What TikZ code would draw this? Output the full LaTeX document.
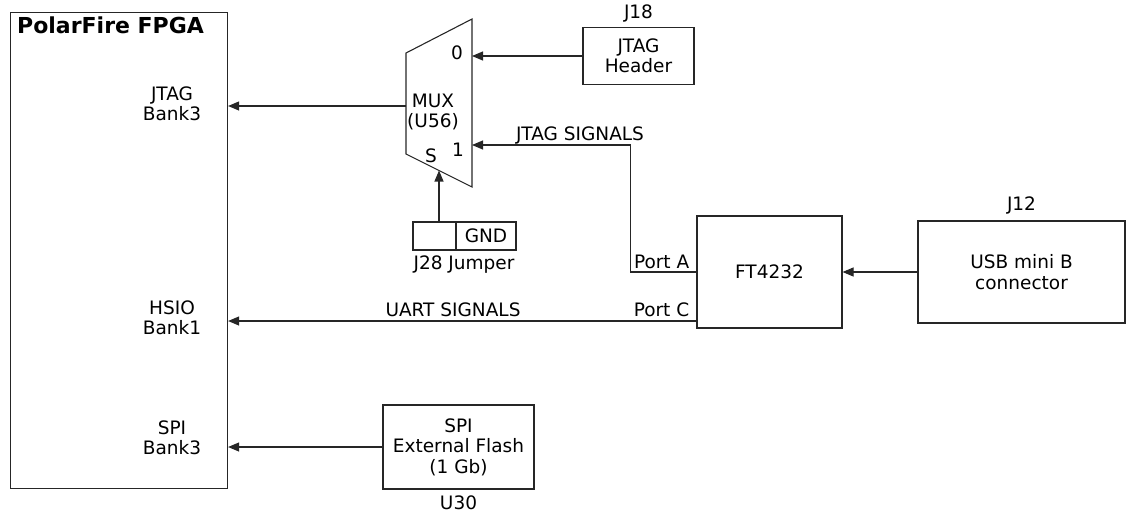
\documentclass[tikz,border=0pt]{standalone}
\usepackage{fontspec}
\setmainfont{DejaVu Sans}
\usetikzlibrary{arrows.meta,positioning}
\begin{document}
\begin{tikzpicture}[x=1pt,y=-1pt,
  lbl/.style={font=\fontsize{18.5}{20.5}\selectfont, inner sep=0pt, align=center},
  box/.style={draw=black!85, line width=1.1pt, lbl},
  wire/.style={draw=black!85, line width=1.1pt},
  arr/.style={wire, -{Triangle[length=11pt,width=9pt]}}]
\useasboundingbox (0,0) rectangle (1126,512);
% FPGA
\node[box, minimum width=217pt, minimum height=476pt, anchor=north west] (fpga) at (10,12) {};
\node[lbl, anchor=west, font=\fontsize{22}{24}\selectfont\bfseries] (title) at (17,25) {PolarFire FPGA};
\node[lbl] (bjtag) at (172,104) {JTAG\\Bank3};
\node[lbl] (bhsio) at (172,318) {HSIO\\Bank1};
\node[lbl] (bspi) at (172,438) {SPI\\Bank3};
% MUX
\draw[wire] (406,53) -- (472,19) -- (472,187) -- (406,154) -- cycle;
\coordinate (muxL) at (406,106);
\coordinate (mux0) at (472,56);
\coordinate (mux1) at (472,145);
\coordinate (muxS) at (439,170.5);
\node[lbl] (muxt) at (433,112) {MUX\\(U56)};
\node[lbl] (m0) at (457,53) {0};
\node[lbl] (m1) at (458,150) {1};
\node[lbl] (ms) at (431,156) {S};
% JTAG header
\node[box, minimum width=111pt, minimum height=57pt] (jtagh) at (638.5,56) {JTAG\\Header};
\node[lbl, above=5pt of jtagh.north] (j18) {J18};
% Jumper
\node[box, minimum width=43pt, minimum height=28pt] (jl) at (434.5,236) {};
\node[box, minimum width=60pt, minimum height=28pt] (jr) at (486,236) {GND};
\node[lbl] (j28) at (464,265) {J28 Jumper};
% FT4232
\node[box, minimum width=145pt, minimum height=112pt] (ft) at (769.5,272) {FT4232};
\coordinate (pc) at ([yshift=-49pt]ft.west);
\node[lbl, anchor=south east] (porta) at ([xshift=-7pt,yshift=3pt]ft.west) {Port A};
\node[lbl, anchor=south east] (portc) at ([xshift=-7pt,yshift=4pt]pc) {Port C};
% USB
\node[box, minimum width=207pt, minimum height=102pt] (usb) at (1021.5,272) {USB mini B\\connector};
\node[lbl, above=6pt of usb.north] (j12) {J12};
% Flash
\node[box, minimum width=151pt, minimum height=84pt] (flash) at (458.5,447) {SPI\\External Flash\\(1 Gb)};
\node[lbl, below=6pt of flash.south] (u30) {U30};
% connectors
\draw[arr] (muxL) -- (muxL -| fpga.east);
\draw[arr] (jtagh.west |- mux0) -- (mux0);
\draw[arr] (ft.west) -- ++(-66,0) |- (mux1);
\node[lbl] (jsig) at (580,135) {JTAG SIGNALS};
\draw[arr] (muxS |- jl.north) -- (muxS);
\draw[arr] (usb.west) -- (ft.east);
\draw[arr] (pc) -- (pc -| fpga.east);
\node[lbl] (uart) at (453,310) {UART SIGNALS};
\draw[arr] (flash.west) -- (flash.west -| fpga.east);
\end{tikzpicture}
\end{document}
